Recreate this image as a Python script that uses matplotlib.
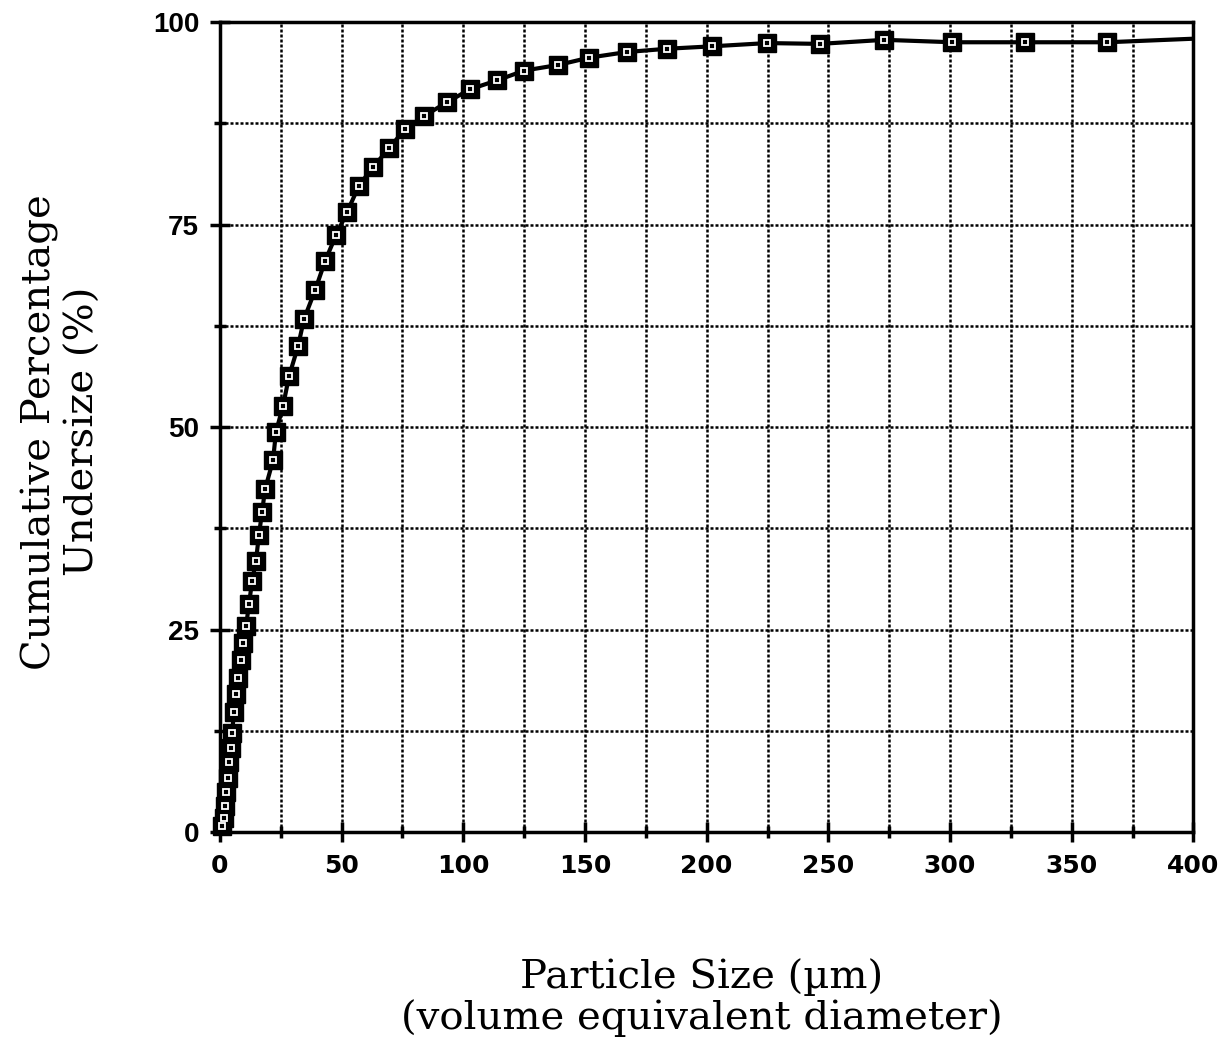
import matplotlib
matplotlib.use("Agg")
import matplotlib.pyplot as plt
from matplotlib.ticker import MultipleLocator

# Particle size (um) and cumulative percentage undersize (%)
size_um = [0.8, 1.6, 2.1, 2.5, 3.3, 3.7, 4.5, 4.9, 5.8, 6.6, 7.4, 8.6, 9.5, 10.7,
           11.9, 13.2, 14.8, 16.0, 17.3, 18.5, 21.8, 23.0, 25.9, 28.4, 32.1, 34.5,
           39.1, 43.2, 47.7, 52.2, 57.1, 62.9, 69.5, 76.0, 83.9, 93.3, 102.8, 113.9,
           125.0, 139.0, 151.7, 167.3, 183.8, 202.3, 224.9, 246.6, 273.0, 301.0,
           331.0, 364.6]
cum_pct = [0.7, 1.7, 3.2, 4.9, 6.7, 8.6, 10.4, 12.2, 14.8, 17.0, 19.0, 21.2, 23.3,
           25.4, 28.1, 31.0, 33.5, 36.7, 39.5, 42.3, 45.9, 49.4, 52.6, 56.3, 60.0,
           63.3, 66.9, 70.5, 73.7, 76.5, 79.8, 82.1, 84.4, 86.8, 88.4, 90.1, 91.7,
           92.8, 94.0, 94.7, 95.6, 96.3, 96.7, 97.0, 97.4, 97.3, 97.8, 97.5, 97.5, 97.5]
# continuation of the curve to the right edge
tail_x = [364.6, 405.0]
tail_y = [97.5, 98.0]

x_ticks = [0, 50, 100, 150, 200, 250, 300, 350, 400]
y_ticks = [0, 25, 50, 75, 100]

fig = plt.figure(figsize=(12.29, 10.48), dpi=100)
ax = fig.add_axes([0.179, 0.206, 0.792, 0.773])

ax.set_xlim(0, 400)
ax.set_ylim(0, 100)

ax.xaxis.set_minor_locator(MultipleLocator(25))
ax.yaxis.set_minor_locator(MultipleLocator(12.5))
ax.set_xticks(x_ticks)
ax.set_yticks(y_ticks)
ax.grid(which="both", color="black", linestyle=(0, (1.2, 0.8)), linewidth=1.8)
ax.set_axisbelow(True)

for s in ax.spines.values():
    s.set_linewidth(2.5)
    s.set_color("black")

ax.tick_params(axis="both", which="both", direction="inout", width=2.5, colors="black")
ax.tick_params(axis="both", which="major", length=14)
ax.tick_params(axis="both", which="minor", length=9)
ax.tick_params(axis="x", pad=9)
ax.tick_params(axis="y", pad=8)
for lab in ax.get_xticklabels():
    lab.set_fontfamily("DejaVu Sans")
    lab.set_fontweight("bold")
    lab.set_fontsize(18)
for lab in ax.get_yticklabels():
    lab.set_fontfamily("Liberation Sans")
    lab.set_fontweight("bold")
    lab.set_fontsize(20)

ax.plot(size_um, cum_pct, color="black", linewidth=3, clip_on=False, zorder=3)
ax.plot(tail_x, tail_y, color="black", linewidth=3, zorder=3)
ax.plot(size_um, cum_pct, linestyle="none", marker="s", markersize=12.5,
        markerfacecolor="black", markeredgecolor="black", clip_on=False, zorder=4)
ax.plot(size_um, cum_pct, linestyle="none", marker="s", markersize=4.5,
        markerfacecolor="black", markeredgecolor="white", markeredgewidth=1.3,
        clip_on=False, zorder=5)

fig.text(0.050, 0.588, "Cumulative Percentage\nUndersize (%)", rotation=90,
         ha="center", va="center", fontsize=29, family="DejaVu Serif",
         linespacing=1.2)
fig.text(0.571, 0.048, "Particle Size (\u00b5m)\n(volume equivalent diameter)",
         ha="center", va="center", fontsize=29, family="DejaVu Serif",
         linespacing=1.1)

fig.savefig("out.png", dpi=100)
